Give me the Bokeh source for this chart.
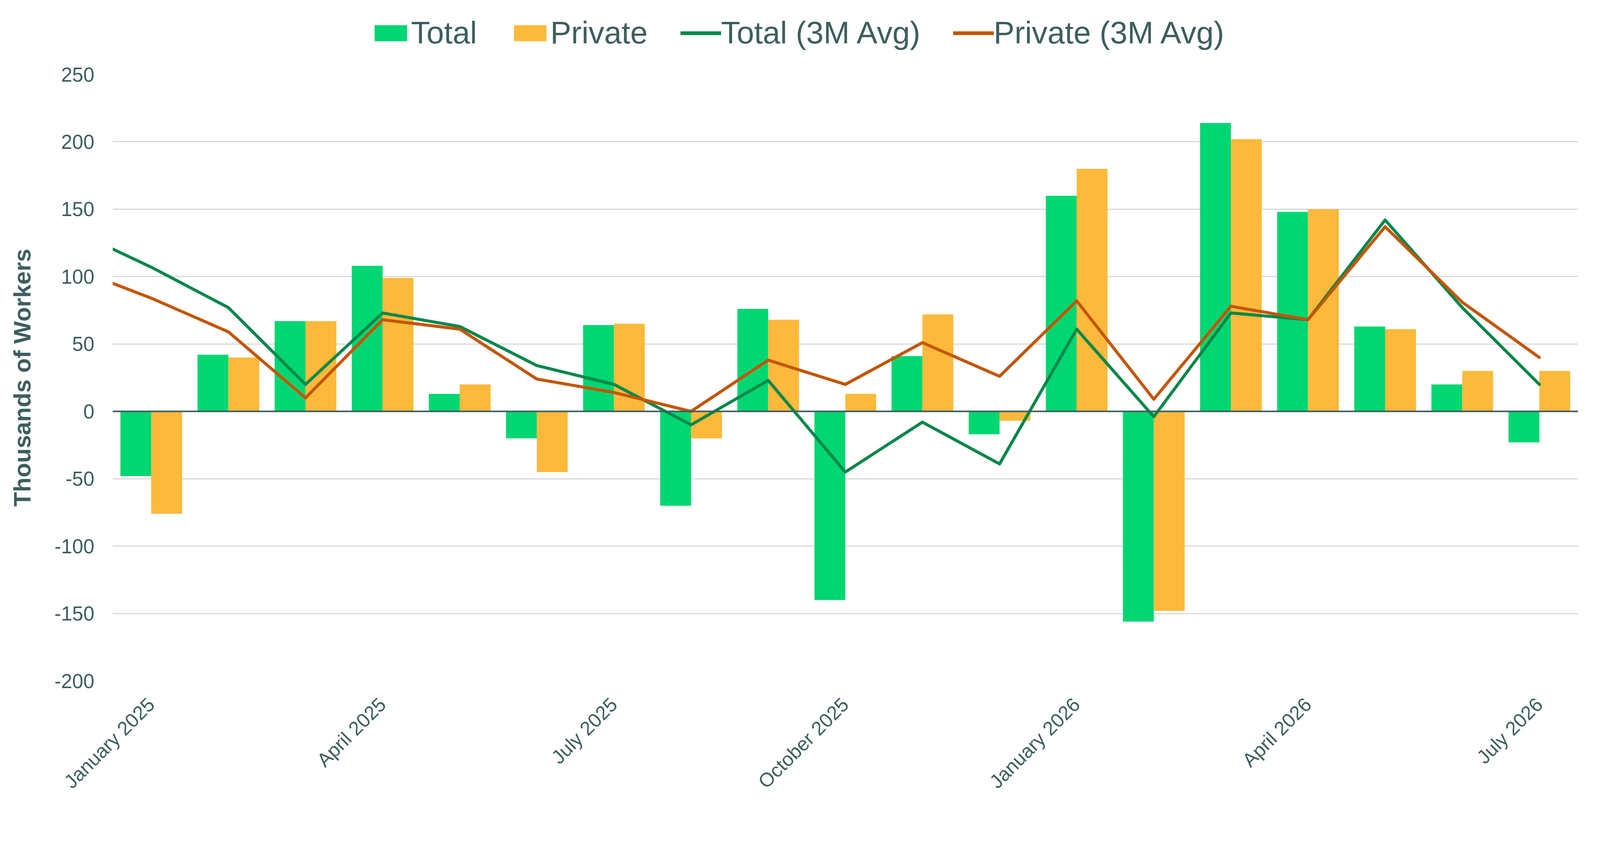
import math
import numpy as np
from bokeh.plotting import figure
from bokeh.layouts import column
from bokeh.models import (ColumnDataSource, Range1d, FixedTicker, Span, Legend, LegendItem)
from bokeh.transform import dodge
from bokeh.embed import file_html
from bokeh.resources import INLINE

# ---- data ----
months = ["January 2025", "February 2025", "March 2025", "April 2025", "May 2025",
          "June 2025", "July 2025", "August 2025", "September 2025", "October 2025",
          "November 2025", "December 2025", "January 2026", "February 2026",
          "March 2026", "April 2026", "May 2026", "June 2026", "July 2026"]
total = [-48, 42, 67, 108, 13, -20, 64, -70, 76, -140, 41, -17, 160, -156, 214, 148, 63, 20, -23]
private = [-76, 40, 67, 99, 20, -45, 65, -20, 68, 13, 72, -7, 180, -148, 202, 150, 61, 30, 30]

# 3-month averages (the series starts one month before the first bar, December 2024)
avg_months = ["December 2024"] + months
total_3m = [134, 107, 77, 20, 73, 63, 34, 20, -10, 23, -45, -8, -39, 61, -4, 73, 68, 142, 77, 20]
private_3m = [106, 84, 59, 10, 68, 61, 24, 14, 0, 38, 20, 51, 26, 82, 9, 78, 68, 137, 81, 40]

y_ticks = [-200, -150, -100, -50, 0, 50, 100, 150, 200, 250]
label_every = 3
series_names = ["Total", "Private", "Total (3M Avg)", "Private (3M Avg)"]

# ---- styling ----
TEXT = "#3D5E5E"
C_TOTAL = "#00D672"
C_PRIV = "#FDB93B"
C_TOTAL_L = "#00874A"
C_PRIV_L = "#C45500"
FONT = "Liberation Sans"

CANVAS_W = 4062
LEG_H = 140

idx = np.arange(len(months))
bar_src = ColumnDataSource(dict(x=idx, month=months, total=total, private=private))
avg_idx = np.arange(len(avg_months)) - 1
line_src = ColumnDataSource(dict(x=avg_idx, month=avg_months, t=total_3m, p=private_3m))


def add_series(fig, lw):
    a = fig.vbar(x=dodge("x", -0.2), top="total", width=0.4, source=bar_src,
                 fill_color=C_TOTAL, line_color=None)
    b = fig.vbar(x=dodge("x", 0.2), top="private", width=0.4, source=bar_src,
                 fill_color=C_PRIV, line_color=None)
    c = fig.line(x="x", y="t", source=line_src, line_color=C_TOTAL_L, line_width=lw,
                 line_join="round", line_cap="round")
    d = fig.line(x="x", y="p", source=line_src, line_color=C_PRIV_L, line_width=lw,
                 line_join="round", line_cap="round")
    return a, b, c, d


FW, FH = 3751, 1552
ML, MT, MB = 288, 50, 295
MR = CANVAS_W - ML - FW
p = figure(frame_width=FW, frame_height=FH, output_backend="svg", toolbar_location=None,
           x_range=Range1d(-0.5, len(months) - 0.5), y_range=Range1d(-200, 250),
           min_border_left=ML, min_border_right=MR, min_border_top=MT, min_border_bottom=MB)
p.outline_line_color = None
p.background_fill_color = "white"
p.border_fill_color = "white"

add_series(p, 7.7)
p.add_layout(Span(location=0, dimension="width", line_color=TEXT, line_width=4))

# axes
p.xgrid.visible = False
p.ygrid.grid_line_color = "#D9D9D9"
p.ygrid.grid_line_width = 3
p.yaxis.ticker = FixedTicker(ticks=y_ticks)
p.yaxis.major_label_overrides = {v: str(v) for v in y_ticks}
p.xaxis.ticker = FixedTicker(ticks=[int(i) for i in idx[::label_every]])
p.xaxis.major_label_overrides = {int(i): months[i] for i in idx[::label_every]}
p.xaxis.major_label_orientation = math.pi / 4

for ax in (p.xaxis[0], p.yaxis[0]):
    ax.axis_line_color = None
    ax.major_tick_line_color = None
    ax.minor_tick_line_color = None
    ax.major_label_text_color = TEXT
    ax.major_label_text_font = FONT
p.yaxis.major_label_text_font_size = "51px"
p.xaxis.major_label_text_font_size = "50px"

p.xaxis.major_label_standoff = 46
p.yaxis.major_label_standoff = 41
p.yaxis.axis_label = "Thousands of Workers"
p.yaxis.axis_label_text_font = FONT
p.yaxis.axis_label_text_font_style = "bold"
p.yaxis.axis_label_text_font_size = "61px"
p.yaxis.axis_label_text_color = TEXT
p.yaxis.axis_label_standoff = 45

# ---- legend strip above the chart (series drawn out of view, legend only) ----
lf = figure(width=CANVAS_W, height=LEG_H, output_backend="svg", toolbar_location=None,
            x_axis_location=None, y_axis_location=None,
            min_border_left=ML, min_border_right=MR, min_border_top=0, min_border_bottom=0,
            x_range=Range1d(-100, -99), y_range=Range1d(-1000, -999))
lf.grid.visible = False
lf.outline_line_color = None
lf.border_fill_color = "white"
lf.background_fill_color = "white"
g = add_series(lf, 9.5)

legend = Legend(items=[LegendItem(label=n, renderers=[r]) for n, r in zip(series_names, g)],
                orientation="horizontal", location=(660, 10))
legend.label_text_font = FONT
legend.label_text_font_size = "80px"
legend.label_text_color = TEXT
legend.glyph_width = 104
legend.glyph_height = 51
legend.label_standoff = 0
legend.spacing = 84
legend.padding = 0
legend.margin = 0
legend.border_line_color = None
legend.background_fill_alpha = 0
lf.add_layout(legend, "center")

layout = column(lf, p, spacing=0)
open("out.html", "w").write(file_html(layout, INLINE))
